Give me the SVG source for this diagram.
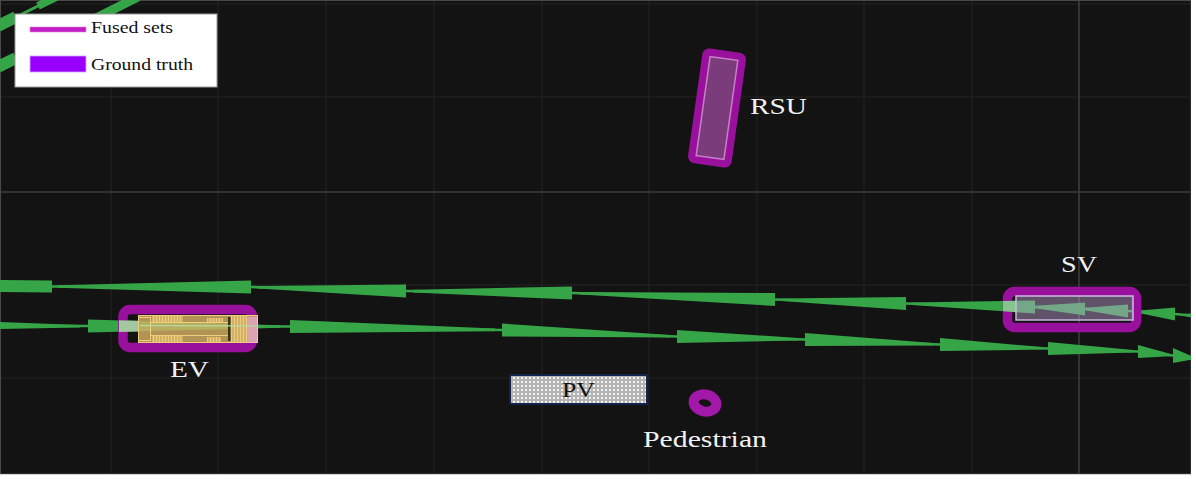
<svg xmlns="http://www.w3.org/2000/svg" width="1196" height="479" viewBox="0 0 1196 479">
<defs>
<style>
.grid{stroke:#242424;stroke-width:1}
.major{stroke:#3d3d3d;stroke-width:1.6}
.g{fill:#36a547}
.gl{fill:none;stroke:#36a547;stroke-width:2.6}
.band{fill:none;stroke:#99109c;stroke-width:9.5}
.lbl{font-family:"Liberation Serif","Times New Roman",serif;font-size:24px;fill:#f2f2f2}
.leg{font-family:"Liberation Serif","Times New Roman",serif;font-size:16px;fill:#111}
.carl{fill:none;stroke:#f0cf7c;stroke-width:1}
</style>
<pattern id="dots" width="4" height="4" patternUnits="userSpaceOnUse">
<rect width="4" height="4" fill="#b4b4b4"/>
<rect x="1" y="1" width="2" height="2" fill="#f2f2f2"/>
</pattern>
<pattern id="stripes" width="3" height="4" patternUnits="userSpaceOnUse">
<rect width="3" height="4" fill="#d2b066"/>
<rect width="1" height="4" fill="#eccd80"/>
</pattern>
</defs>
<rect width="1196" height="479" fill="#ffffff"/>
<rect x="0.5" y="0.5" width="1190.5" height="473.5" fill="#131313" stroke="#4a4a4a" stroke-width="1"/>
<g id="grid">
<line class="grid" x1="111" y1="1" x2="111" y2="474"/>
<line class="grid" x1="218" y1="1" x2="218" y2="474"/>
<line class="grid" x1="326" y1="1" x2="326" y2="474"/>
<line class="grid" x1="434" y1="1" x2="434" y2="474"/>
<line class="grid" x1="542" y1="1" x2="542" y2="474"/>
<line class="grid" x1="649" y1="1" x2="649" y2="474"/>
<line class="grid" x1="757" y1="1" x2="757" y2="474"/>
<line class="grid" x1="864" y1="1" x2="864" y2="474"/>
<line class="grid" x1="972" y1="1" x2="972" y2="474"/>
<line class="grid" x1="1" y1="4" x2="1191" y2="4"/>
<line class="grid" x1="1" y1="97" x2="1191" y2="97"/>
<line class="grid" x1="1" y1="285" x2="1191" y2="285"/>
<line class="grid" x1="1" y1="378" x2="1191" y2="378"/>
<line class="major" x1="1079" y1="1" x2="1079" y2="474"/>
<line class="major" x1="1" y1="192" x2="1191" y2="192"/>
</g>
<g id="connectors">
<g id="topleft-tracks">
<line x1="-2" y1="26" x2="16" y2="17" stroke="#36a547" stroke-width="12"/>
<line x1="16" y1="17" x2="40" y2="5" stroke="#36a547" stroke-width="3"/>
<line x1="38" y1="6" x2="60" y2="-5" stroke="#36a547" stroke-width="8"/>
<line x1="-2" y1="67" x2="16" y2="58" stroke="#36a547" stroke-width="12"/>
<line x1="16" y1="58" x2="90" y2="21" stroke="#36a547" stroke-width="3"/>
<line x1="90" y1="21" x2="138" y2="-3" stroke="#36a547" stroke-width="9"/>
</g>
<g id="track-top">
<polyline class="gl" points="0,286 52,286.5 251,287 406,291 572,293 775,299.5 906,303.5 1035,307 1085,309 1128,311 1175,314 1196,316"/>
<polygon class="g" points="0,280 52,280.5 52,292.5 0,292"/>
<polygon class="g" points="58,285.2 251,280.5 251,293.5 58,287.8"/>
<polygon class="g" points="258,285.9 406,284.5 406,297.5 258,288.5"/>
<polygon class="g" points="413,289.8 572,286.5 572,299.5 413,292.4"/>
<polygon class="g" points="580,291.9 775,293 775,306 580,294.5"/>
<polygon class="g" points="782,298.4 906,297 906,310 782,301"/>
<polygon class="g" points="912,302.4 1035,300.5 1035,313.5 912,305"/>
<polygon class="g" points="1035,305.7 1085,302.5 1085,315.5 1035,308.3"/>
<polygon class="g" points="1085,307.7 1128,304.5 1128,317.5 1085,310.3"/>
<polygon class="g" points="1140,310.6 1175,307.5 1175,320.5 1140,313.2"/>
<polygon class="g" points="1185,313.7 1230,311.5 1230,324.5 1185,316.3"/>
</g>
<g id="track-bottom">
<polyline class="gl" points="0,325.5 88,326 290,326.5 502,330 677,336.5 805,339.5 940,344.5 1048,348.5 1138,351.5 1173,355.5 1196,358.5"/>
<polygon class="g" points="0,322 80,325 80,327.4 0,329"/>
<polygon class="g" points="88,319.5 280,325.2 280,327.8 88,332.5"/>
<polygon class="g" points="290,320 495,328.6 495,331.2 290,333"/>
<polygon class="g" points="502,323.5 670,334.9 670,337.5 502,336.5"/>
<polygon class="g" points="677,330 798,338 798,340.6 677,343"/>
<polygon class="g" points="805,333 933,342.9 933,345.5 805,346"/>
<polygon class="g" points="940,338 1042,347 1042,349.6 940,351"/>
<polygon class="g" points="1048,342 1133,350 1133,352.6 1048,355"/>
<polygon class="g" points="1138,345 1170,353.7 1170,356.3 1138,358"/>
<polygon class="g" points="1173,348 1197,358.5 1173,363"/>
</g>
</g>
<g id="legend">
<rect x="15" y="14" width="202" height="73" fill="#ffffff" stroke="#9a9a9a" stroke-width="1"/>
<rect x="30" y="27" width="56" height="5" fill="#c21cc2" stroke="#e080e0" stroke-width="0.6"/>
<text class="leg" x="91" y="33" textLength="82" lengthAdjust="spacingAndGlyphs">Fused sets</text>
<rect x="30" y="56" width="56" height="16" fill="#9a00ff" stroke="#d0a0ff" stroke-width="0.8"/>
<text class="leg" x="91" y="70" textLength="102" lengthAdjust="spacingAndGlyphs">Ground truth</text>
</g>
<g id="RSU">
<g transform="translate(717,108) rotate(8)">
<rect x="-22" y="-58" width="44" height="116" rx="7" fill="#99109c"/>
<rect x="-14" y="-50" width="28" height="100" fill="#7a3c7a" stroke="#c77fc7" stroke-width="1.5"/>
</g>
<text class="lbl" x="750" y="114" textLength="57" lengthAdjust="spacingAndGlyphs">RSU</text>
</g>
<g id="EV">
<rect class="band" x="123" y="309.5" width="129.5" height="38" rx="7"/>
<polygon points="119,320.2 138,320.8 138,331.5 119,332" fill="#a3c7a0"/>
<rect x="138" y="315" width="120" height="28" fill="#d4b064" fill-opacity="0.82"/>
<rect class="carl" x="138.5" y="315.5" width="119" height="27"/>
<rect class="carl" x="138.5" y="317.5" width="12" height="23"/>
<rect x="152" y="316" width="31" height="6" fill="url(#stripes)"/>
<rect x="207" y="318" width="16" height="5" fill="url(#stripes)"/>
<rect x="152" y="336" width="31" height="6" fill="url(#stripes)"/>
<rect x="207" y="337" width="14" height="5" fill="url(#stripes)"/>
<line class="carl" x1="150" y1="322.5" x2="228" y2="322.5"/>
<line class="carl" x1="150" y1="335.5" x2="228" y2="335.5"/>
<rect x="228" y="317" width="2.5" height="24" fill="#3a3218"/>
<rect x="231" y="316" width="16" height="26" fill="url(#stripes)"/>
<rect x="247" y="317" width="10" height="26" fill="#e6aee0" fill-opacity="0.6"/>
<line x1="140" y1="325.5" x2="258" y2="326" stroke="#b7dca0" stroke-width="1.6" opacity="0.85"/>
<text class="lbl" x="170" y="377" textLength="39" lengthAdjust="spacingAndGlyphs">EV</text>
</g>
<g id="SV">
<rect class="band" x="1007.5" y="291.5" width="129" height="36" rx="7"/>
<polygon points="1003,301 1016,300.8 1016,312.2 1003,311.3" fill="#86c48e"/>
<rect x="1016" y="296" width="117" height="24" fill="#c8aae1" fill-opacity="0.42" stroke="#cdb7e0" stroke-width="1.5"/>
<text class="lbl" x="1061" y="272" textLength="36" lengthAdjust="spacingAndGlyphs">SV</text>
</g>
<g id="PV">
<rect x="510" y="375" width="137" height="29" fill="url(#dots)" stroke="#13244a" stroke-width="2"/>
<text class="lbl" x="562" y="397" style="fill:#111;font-size:22px" textLength="33" lengthAdjust="spacingAndGlyphs">PV</text>
</g>
<g id="Pedestrian">
<ellipse cx="705" cy="403" rx="11.5" ry="8.5" transform="rotate(12 705 403)" fill="none" stroke="#a218a8" stroke-width="10"/>
<text class="lbl" x="643" y="447" textLength="124" lengthAdjust="spacingAndGlyphs">Pedestrian</text>
</g>
<rect x="1191" y="0" width="5" height="479" fill="#ffffff"/>
<rect x="0" y="474.5" width="1196" height="5" fill="#ffffff"/>
</svg>
